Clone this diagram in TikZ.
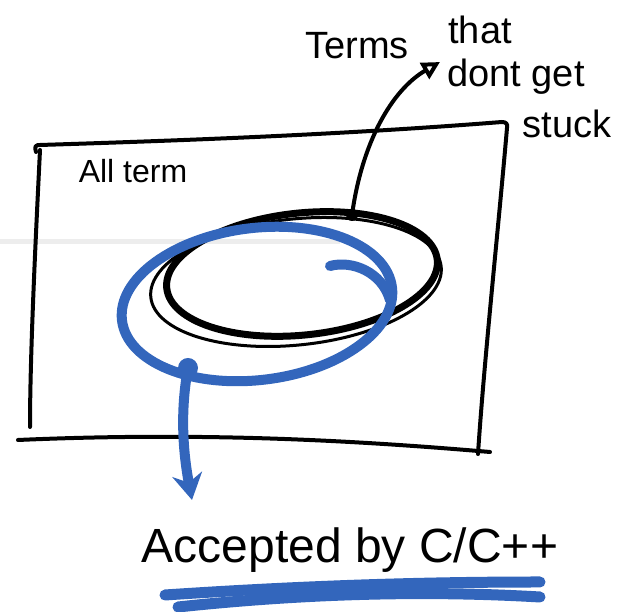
\documentclass[tikz,border=0pt]{standalone}
\usepackage{fontspec}
\setmainfont{Liberation Sans}
\usetikzlibrary{arrows.meta}
\definecolor{penblue}{RGB}{51,102,188}
\tikzset{
  ink/.style={draw=black, line width=4pt, line cap=round, line join=round},
  thickink/.style={draw=black, line width=7pt},
  thinink/.style={draw=black, line width=3pt},
  blueink/.style={draw=penblue, line width=10pt, line cap=round, line join=round},
  label/.style={inner sep=0pt, font=\fontsize{38}{42}\selectfont},
}
\begin{document}
\begin{tikzpicture}[x=1pt,y=1pt]
\useasboundingbox (0,0) rectangle (625,612);
% faint gray band
\fill[black!7] (0,368) rectangle (340,373);
% outer box ("All terms")
\draw[ink] (36,460) .. controls (34,466) and (36,467) .. (40,467)
  .. controls (200,472) and (350,478) .. (502,490) .. controls (506,490) and (508,488) .. (507,484);
\draw[ink] (40,462) .. controls (36,380) and (30,260) .. (30,185);
\draw[ink] (507,484) .. controls (498,380) and (484,250) .. (478,158);
\draw[ink] (18,172) .. controls (200,180) and (350,172) .. (490,160);
\node[label, font=\fontsize{32}{36}\selectfont] (allterms) at (133,441) {All term};
% ellipses
\draw[thinink, rotate around={6:(296,330)}] (296,330) ellipse [x radius=146pt, y radius=63pt];
\draw[thickink, rotate around={6:(302,338)}] (302,338) ellipse [x radius=136pt, y radius=61pt];
\draw[blueink, rotate around={7:(257,308)}] (257,308) ellipse [x radius=136pt, y radius=76pt];
\draw[blueink] (330,346) .. controls (352,352) and (382,340) .. (390,312);
% dots
\coordinate (bdot) at (352,397);
\coordinate (udot) at (188,244);
\fill[black] (bdot) circle (6pt);
\fill[penblue] (udot) circle (10pt);
% labels top right
\node[label] (terms) at (357,566) {Terms};
\node[label] (that) at (480,582) {that};
\node[label] (dontget) at (516,535) {dont get};
\node[label] (stuck) at (567,488) {stuck};
\coordinate (arrtip) at (440,550);
\draw[ink, -{Triangle[open, length=18pt, width=18pt, line width=4pt]}]
  (bdot) .. controls (362,470) and (392,522) .. (arrtip);
% bottom label
\node[inner sep=0pt, anchor=base, font=\fontsize{48}{52}\selectfont] (accepted) at (350,49) {Accepted by C/C++};
\coordinate (blutip) at (192,112);
\draw[blueink, -{Stealth[length=26pt, width=30pt]}]
  (udot) .. controls (180,200) and (183,160) .. (blutip);
% underline
\coordinate (u1) at (165,17);
\coordinate (u2) at (540,30);
\coordinate (u3) at (540,15);
\coordinate (u4) at (178,5);
\draw[blueink, line width=11pt] (u1) .. controls (300,26) and (420,30) .. (u2);
\draw[blueink, line width=11pt] (u3) .. controls (420,22) and (300,18) .. (u4);
\end{tikzpicture}
\end{document}
